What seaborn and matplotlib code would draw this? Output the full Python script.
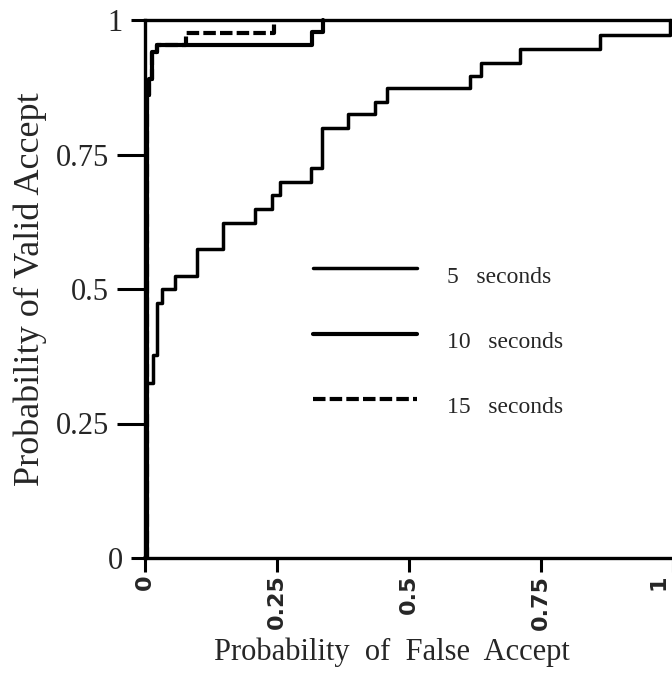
import matplotlib
matplotlib.use("Agg")
import matplotlib.pyplot as plt
import matplotlib.transforms as mtransforms
from matplotlib.lines import Line2D
from matplotlib.legend_handler import HandlerLine2D
import seaborn as sns

# ROC operating points (false accept, valid accept), step curves
fa_5s = [0, 0.002, 0.016, 0.022, 0.032, 0.057, 0.099, 0.148, 0.208, 0.24, 0.256,
         0.314, 0.335, 0.385, 0.436, 0.458, 0.616, 0.637, 0.711, 0.862, 0.994]
va_5s = [0, 0.325, 0.377, 0.474, 0.5, 0.524, 0.574, 0.623, 0.649, 0.675, 0.699,
         0.724, 0.799, 0.825, 0.848, 0.873, 0.896, 0.921, 0.947, 0.972, 1.0]

fa_10s = [0, 0.004, 0.008, 0.014, 0.022, 0.316, 0.338]
va_10s = [0, 0.86, 0.89, 0.94, 0.953, 0.978, 1.0]

fa_15s = [0, 0.004, 0.008, 0.014, 0.022, 0.078, 0.245]
va_15s = [0, 0.86, 0.89, 0.94, 0.953, 0.976, 1.0]

labels = ["5   seconds", "10   seconds", "15   seconds"]
x_tick_vals = [0, 0.25, 0.5, 0.75, 1]
x_tick_text = ["0", "0.25", "0.5", "0.75", "1"]
y_end_vals = [0, 1]
y_end_text = ["0", "1"]
y_mid_vals = [0.25, 0.5, 0.75]
y_mid_text = ["0.25", "0.5", "0.75"]


class RaisedLineHandler(HandlerLine2D):
    """Legend line drawn a little above the text centre, as in the original."""
    def create_artists(self, legend, orig_handle, xdescent, ydescent, width,
                       height, fontsize, trans):
        return super().create_artists(legend, orig_handle, xdescent, ydescent - 9,
                                      width, height, fontsize, trans)


sns.set_style("ticks")
plt.rcParams["font.family"] = ["Liberation Serif", "DejaVu Serif"]

fig = plt.figure(figsize=(6.72, 6.87), dpi=100)
ax = fig.add_axes([145 / 672, 129 / 687, 528 / 672, 538 / 687])

sns.lineplot(x=fa_5s, y=va_5s, estimator=None, sort=False, drawstyle="steps-post",
             color="black", lw=2.5, ax=ax, label=labels[0], clip_on=False)
sns.lineplot(x=fa_10s, y=va_10s, estimator=None, sort=False, drawstyle="steps-post",
             color="black", lw=3.0, ax=ax, label=labels[1], clip_on=False)
sns.lineplot(x=fa_15s, y=va_15s, estimator=None, sort=False, drawstyle="steps-post",
             color="black", lw=3.0, linestyle=(0, (3, 1)), ax=ax, label=labels[2],
             clip_on=False)

ax.set_xlim(0, 1)
ax.set_ylim(0, 1)
ax.set_xticks(x_tick_vals)
ax.set_xticklabels(x_tick_text, rotation=90, fontsize=16, fontweight="bold",
                   family=["DejaVu Sans"])
ax.set_yticks(y_end_vals)
ax.set_yticklabels(y_end_text, fontsize=22)
ax.set_yticks(y_mid_vals, minor=True)
ax.set_yticklabels(y_mid_text, minor=True, fontsize=22)

ax.tick_params(axis="x", direction="out", length=10, width=2.2, color="black", pad=2)
ax.tick_params(axis="y", which="major", direction="out", length=10, width=2.2,
               color="black", pad=6)
ax.tick_params(axis="y", which="minor", direction="out", length=20, width=2.2,
               color="black", pad=6)
ax.tick_params(axis="x", which="minor", bottom=False)

# keep the last x label inside the canvas
last = ax.get_xticklabels()[-1]
last.set_transform(last.get_transform() +
                   mtransforms.ScaledTranslation(-15 / 100, 0, fig.dpi_scale_trans))

for side in ["left", "bottom", "top"]:
    ax.spines[side].set_linewidth(2.4)
    ax.spines[side].set_color("black")
ax.spines["right"].set_visible(False)

ax.set_xlabel("Probability  of  False  Accept", fontsize=22, labelpad=6)
ax.xaxis.label.set_x(0.468)
ax.set_ylabel("Probability of Valid Accept", fontsize=26, labelpad=6)

ax.legend(frameon=False, loc="upper left", bbox_to_anchor=(0.318, 0.542),
          borderpad=0, borderaxespad=0, handlelength=4.4, handletextpad=1.3,
          labelspacing=1.85, fontsize=17,
          handler_map={Line2D: RaisedLineHandler()})

fig.savefig("out.png", dpi=100)
